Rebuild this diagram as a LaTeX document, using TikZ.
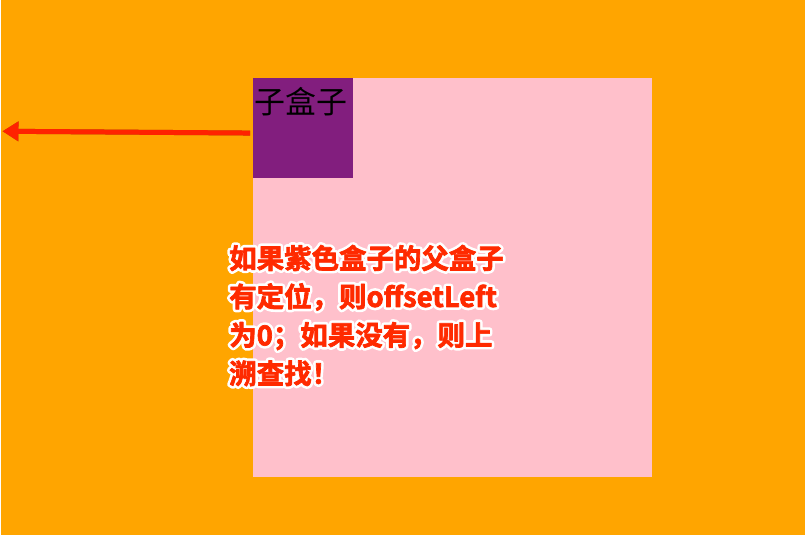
\documentclass[tikz,border=0pt]{standalone}
\usepackage{fontspec}
\usepackage{xcolor}
\usetikzlibrary{positioning, arrows.meta}
\newfontfamily\cjk{Noto Sans CJK SC}
\newfontfamily\cjkbold{Noto Sans CJK SC Bold}
\definecolor{pagebg}{HTML}{FFA500}
\definecolor{parentpink}{HTML}{FFC0CB}
\definecolor{childpurple}{HTML}{821E7E}
\definecolor{notered}{HTML}{FF2A00}
\definecolor{arrowred}{HTML}{FF2200}
% white outline behind the red note text, and a slightly heavier red on top
\newcommand\whiteoutline[1]{\special{pdf:literal direct 1 Tr 6 w 1 j 1 1 1 RG}#1\special{pdf:literal direct 0 Tr}}
\newcommand\heavyred[1]{\special{pdf:literal direct 2 Tr 0.7 w 1 j 1 0.165 0 RG}#1\special{pdf:literal direct 0 Tr}}

\begin{document}
\begin{tikzpicture}[x=1pt, y=-1pt,
    box/.style={draw=none, inner sep=0pt, outer sep=0pt},
    note/.style={anchor=base west, inner sep=0pt, font=\cjkbold\fontsize{27.5}{27.5}\selectfont},
    pointer/.style={arrowred, line width=5pt, -{Triangle[length=16pt, width=19pt]}}]
    \fill[pagebg] (0,0) rectangle (805,536);
    \node[box, fill=parentpink, minimum width=400pt, minimum height=400pt, anchor=north west] (parent) at (252,78) {};
    \node[box, fill=childpurple, minimum width=100pt, minimum height=100pt, anchor=north west] (child) at (parent.north west) {};
    \node[anchor=base west, inner sep=0pt, font=\cjk\fontsize{31}{31}\selectfont] (childlabel) at (253,114) {子盒子};
    \coordinate (tail) at (249,133.3);
    \coordinate (tip) at (1,131.5);
    \draw[pointer, black, opacity=0.35, shift={(1,1.5)}] (tail) -- (tip); % soft shadow
    \draw[pointer] (tail) -- (tip);
    \foreach \ln [count=\i] in {如果紫色盒子的父盒子, 有定位，则offsetLeft, 为0；如果没有，则上, 溯查找！}{
        \node[note] (halo\i) at (228,{269+(\i-1)*38.5}) {\whiteoutline{\ln}};
        \node[note, notered] (line\i) at (halo\i.base west) {\heavyred{\ln}};
    }
\end{tikzpicture}
\end{document}
